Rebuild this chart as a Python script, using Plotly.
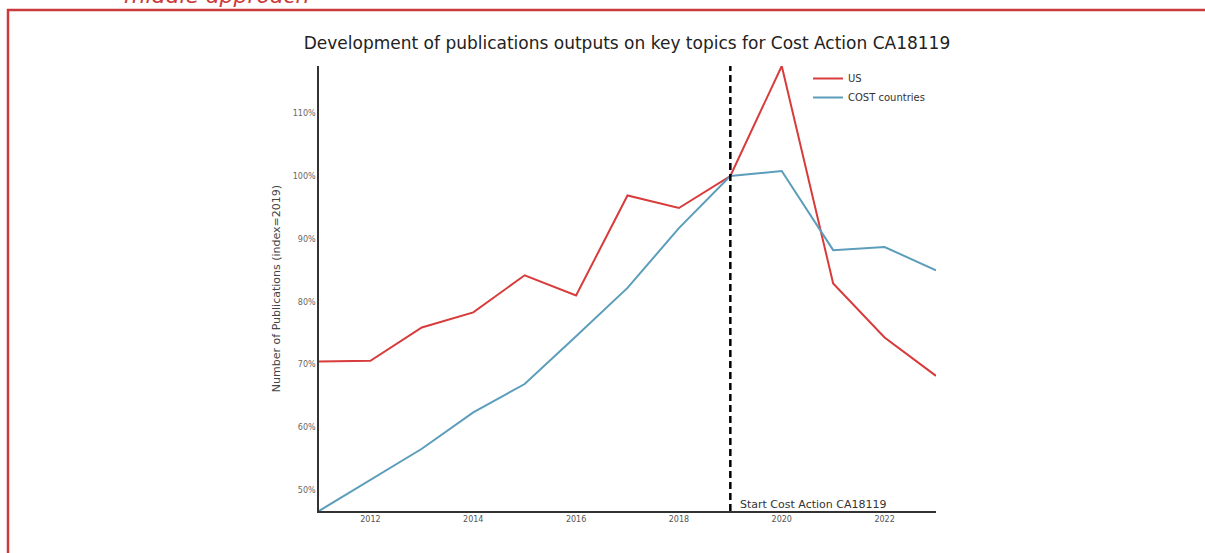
import plotly.graph_objects as go

years = [2011, 2012, 2013, 2014, 2015, 2016, 2017, 2018, 2019, 2020, 2021, 2022, 2023]
us_values = [70.5, 70.6, 75.9, 78.3, 84.2, 81.0, 96.9, 94.9, 100.0, 117.5, 82.9, 74.3, 68.2]
cost_values = [46.7, 51.6, 56.6, 62.4, 66.9, 74.5, 82.2, 91.7, 100.0, 100.8, 88.2, 88.7, 85.0]
y_ticks = [50, 60, 70, 80, 90, 100, 110]
x_ticks = [2012, 2014, 2016, 2018, 2020, 2022]
action_start = 2019

W, H = 1205, 553
L, R, T, B = 319, 936, 66, 511


def px(xp):
    return (xp - L) / (R - L)


def py(yp):
    return (B - yp) / (B - T)


FONT = "DejaVu Sans"
RED = "#d83b3b"
BLUE = "#5c9dbb"
BORDER = "#cc3b3b"

fig = go.Figure()
fig.add_trace(go.Scatter(x=years, y=us_values, mode="lines", name="US",
                         line=dict(color=RED, width=2)))
fig.add_trace(go.Scatter(x=years, y=cost_values, mode="lines", name="COST countries",
                         line=dict(color=BLUE, width=2)))

fig.add_shape(type="line", xref="x", yref="paper", x0=action_start, x1=action_start,
              y0=0, y1=1, line=dict(color="black", width=2.5, dash="7px,4px"))
fig.add_annotation(xref="x", yref="paper", x=action_start, y=0, xanchor="left", yanchor="bottom",
                   xshift=8, yshift=-2, text="Start Cost Action CA18119", showarrow=False,
                   font=dict(family=FONT, size=11, color="#333"))

# red frame of the surrounding page
fig.add_shape(type="line", xref="paper", yref="paper", x0=px(8), x1=px(8), y0=py(9), y1=py(560),
              line=dict(color=BORDER, width=2.5), layer="above")
fig.add_shape(type="line", xref="paper", yref="paper", x0=px(7), x1=px(1210), y0=py(10), y1=py(10),
              line=dict(color=BORDER, width=2.5), layer="above")
fig.add_annotation(xref="paper", yref="paper", x=px(122), y=py(10), xanchor="left", yanchor="bottom",
                   text="<i>middle approach</i>", showarrow=False,
                   font=dict(family=FONT, size=22, color=BORDER))

fig.update_layout(
    width=W, height=H,
    margin=dict(l=L, r=W - R, t=T, b=H - B),
    paper_bgcolor="white", plot_bgcolor="white",
    title=dict(text="Development of publications outputs on key topics for Cost Action CA18119",
               xref="container", x=627 / W, xanchor="center", y=1 - 43 / H, yanchor="middle",
               font=dict(family=FONT, size=17, color="#222")),
    font=dict(family=FONT, color="#444"),
    showlegend=True,
    legend=dict(x=px(808), y=py(64), xanchor="left", yanchor="top",
                bgcolor="rgba(0,0,0,0)", font=dict(family=FONT, size=10, color="#333"),
                tracegroupgap=0, itemwidth=30),
    xaxis=dict(range=[min(years), max(years)], tickvals=x_ticks, ticktext=[str(v) for v in x_ticks],
               showgrid=False, zeroline=False, showline=True, linecolor="#333", linewidth=1.5,
               ticks="", tickfont=dict(family=FONT, size=8, color="#555")),
    yaxis=dict(range=[min(cost_values), max(us_values)], tickvals=y_ticks,
               ticktext=[f"{v}%" for v in y_ticks],
               showgrid=False, zeroline=False, showline=True, linecolor="#333", linewidth=1.5,
               ticks="", tickfont=dict(family=FONT, size=8, color="#666"),
               title=dict(text="Number of Publications (index=2019)", standoff=10,
                          font=dict(family=FONT, size=11, color="#444"))),
)

fig.write_html("out.html", post_script="document.body.style.margin='0';",
               config={"displayModeBar": False})
